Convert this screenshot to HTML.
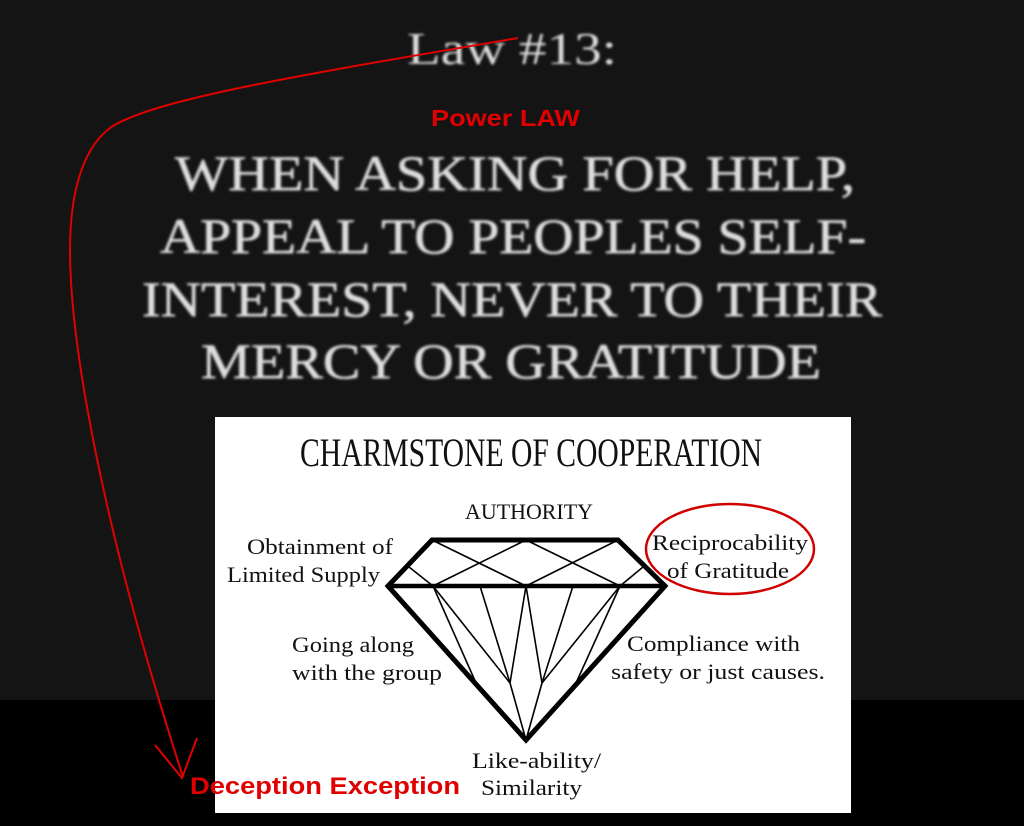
<!DOCTYPE html>
<html><head><meta charset="utf-8"><style>
html,body{margin:0;padding:0;background:#000;}
svg{display:block}
</style></head><body>
<svg width="1024" height="826" viewBox="0 0 1024 826" xmlns="http://www.w3.org/2000/svg">
<defs><filter id="b"><feGaussianBlur stdDeviation="1.2"/></filter></defs>
<rect x="0" y="0" width="1024" height="700" fill="#141414"/>
<rect x="0" y="700" width="1024" height="126" fill="#000"/>
<g fill="#dedede" font-family="Liberation Serif, serif" filter="url(#b)" text-anchor="middle" stroke="#dedede" stroke-width="0.6">
<text x="512" y="64" font-size="46" textLength="210" lengthAdjust="spacingAndGlyphs" stroke-width="0">Law #13:</text>
<text x="515" y="190" font-size="50" textLength="680" lengthAdjust="spacingAndGlyphs">WHEN ASKING FOR HELP,</text>
<text x="513" y="253" font-size="50" textLength="706" lengthAdjust="spacingAndGlyphs">APPEAL TO PEOPLES SELF-</text>
<text x="512" y="316" font-size="50" textLength="740" lengthAdjust="spacingAndGlyphs">INTEREST, NEVER TO THEIR</text>
<text x="511" y="378" font-size="50" textLength="620" lengthAdjust="spacingAndGlyphs">MERCY OR GRATITUDE</text>
</g>
<text x="431" y="126" font-family="Liberation Sans, sans-serif" font-weight="bold" font-size="23" fill="#e00000" textLength="149" lengthAdjust="spacingAndGlyphs">Power LAW</text>
<rect x="215" y="417" width="636" height="396" fill="#fff"/>
<g font-family="Liberation Serif, serif" fill="#111" font-size="22" lengthAdjust="spacingAndGlyphs">
<text x="531" y="466" font-size="40" text-anchor="middle" textLength="462" lengthAdjust="spacingAndGlyphs">CHARMSTONE OF COOPERATION</text>
<text x="465" y="519" textLength="128" lengthAdjust="spacingAndGlyphs">AUTHORITY</text>
<text x="247" y="554" textLength="146" lengthAdjust="spacingAndGlyphs">Obtainment of</text>
<text x="227" y="582" textLength="153" lengthAdjust="spacingAndGlyphs">Limited Supply</text>
<text x="652" y="550" textLength="156" lengthAdjust="spacingAndGlyphs">Reciprocability</text>
<text x="667" y="578" textLength="122" lengthAdjust="spacingAndGlyphs">of Gratitude</text>
<text x="292" y="652" textLength="122" lengthAdjust="spacingAndGlyphs">Going along</text>
<text x="292" y="680" textLength="150" lengthAdjust="spacingAndGlyphs">with the group</text>
<text x="627" y="651" textLength="173" lengthAdjust="spacingAndGlyphs">Compliance with</text>
<text x="611" y="679" textLength="214" lengthAdjust="spacingAndGlyphs">safety or just  causes.</text>
<text x="472" y="768" textLength="129" lengthAdjust="spacingAndGlyphs">Like-ability/</text>
<text x="481" y="795" textLength="101" lengthAdjust="spacingAndGlyphs">Similarity</text>
</g>
<g stroke="#000" fill="none" stroke-width="1.6">
<line x1="432" y1="540" x2="526" y2="586"/>
<line x1="618" y1="540" x2="526" y2="586"/>
<line x1="526" y1="540" x2="433" y2="586"/>
<line x1="526" y1="540" x2="620" y2="586"/>
<line x1="409" y1="567" x2="433" y2="586"/>
<line x1="643" y1="567" x2="620" y2="586"/>
<line x1="433" y1="586" x2="476" y2="683"/>
<line x1="433" y1="586" x2="510" y2="683"/>
<line x1="480" y1="586" x2="510" y2="683"/>
<line x1="526" y1="586" x2="510" y2="683"/>
<line x1="526" y1="586" x2="542" y2="683"/>
<line x1="573" y1="586" x2="542" y2="683"/>
<line x1="620" y1="586" x2="542" y2="683"/>
<line x1="620" y1="586" x2="576" y2="683"/>
<line x1="510" y1="683" x2="526" y2="740"/>
<line x1="542" y1="683" x2="526" y2="740"/>
</g>
<path d="M432,540 L618,540 L665,586 L526,740 L388,586 Z" stroke="#000" stroke-width="5" fill="none" stroke-linejoin="miter"/>
<line x1="388" y1="586" x2="665" y2="586" stroke="#000" stroke-width="4.5"/>
<ellipse cx="730" cy="549" rx="84" ry="45" stroke="#d00000" stroke-width="2.5" fill="none"/>
<path d="M518,38 C300,75 150,100 110,128 C78,152 70,205 70,250 C70,340 100,520 183,777" stroke="#e00000" stroke-width="2" fill="none"/>
<path d="M155,745 L182,778 L197,738" stroke="#e00000" stroke-width="2" fill="none"/>
<text x="190" y="794" font-family="Liberation Sans, sans-serif" font-weight="bold" font-size="24" fill="#e00000" textLength="270" lengthAdjust="spacingAndGlyphs">Deception Exception</text>
</svg>
</body></html>
